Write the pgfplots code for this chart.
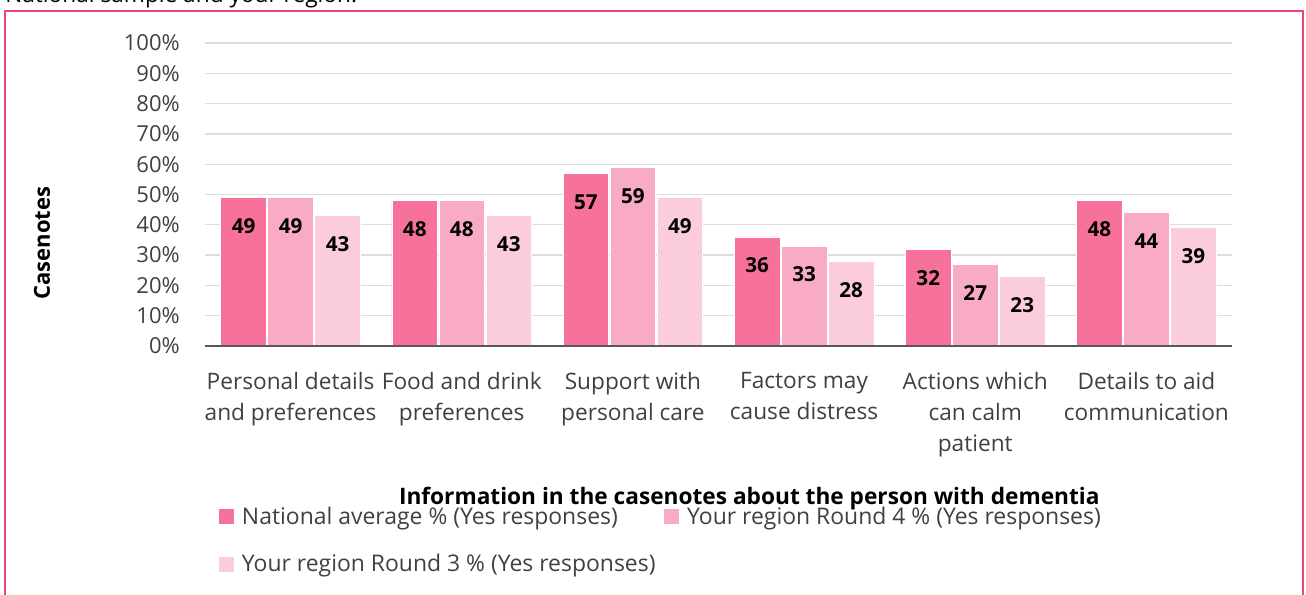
\documentclass[border=0pt]{standalone}
\usepackage{pgfplots}
\pgfplotsset{compat=1.18}
\usepackage{fontspec}
\setmainfont{Open Sans}
\definecolor{natc}{HTML}{F7729A}
\definecolor{r4c}{HTML}{F9ABC5}
\definecolor{r3c}{HTML}{FBCDDC}
\definecolor{framec}{HTML}{F0457A}
\definecolor{gridc}{HTML}{DDDDDD}
\definecolor{axc}{HTML}{595959}
\definecolor{txtc}{HTML}{404040}
\begin{document}
\begin{tikzpicture}
\path[use as bounding box] (0,0) rectangle (979.5pt,-446.25pt);
\clip (0,0) rectangle (979.5pt,-446.25pt);
\node[anchor=base west, inner sep=0pt, font=\fontsize{17}{20}\selectfont, text=black] at (3.75pt,-2pt) {National sample and your region.};
\draw[framec, line width=1.5pt] (3.75pt,-460pt) -- (3.75pt,-8pt) -- (977.25pt,-8pt) -- (977.25pt,-460pt);
\begin{axis}[
  at={(153.75pt,-259.5pt)}, anchor=south west,
  scale only axis, width=770.25pt, height=227.25pt,
  xmin=-0.5, xmax=5.5, ymin=0, ymax=100,
  ybar=1.1pt, bar width=0.266,
  axis line style={draw=none},
  major tick length=0pt,
  xtick={0,...,5},
  xticklabels={{Personal details\\and preferences},{Food and drink\\preferences},{Support with\\personal care},{Factors may\\cause distress},{Actions which\\can calm\\patient},{Details to aid\\communication}},
  xticklabel style={align=center, font=\fontsize{17}{23.25}\selectfont, text=txtc, inner sep=0pt, yshift=-19.5pt},
  ytick={0,10,...,100},
  yticklabel={\pgfmathprintnumber{\tick}\%},
  /pgf/number format/assume math mode=true,
  yticklabel style={font=\fontsize{16.5}{20}\selectfont, text=txtc, inner sep=0pt, xshift=-18.75pt},
  ymajorgrids, grid style={gridc, line width=1pt},
  ylabel={\bfseries Casenotes},
  ylabel style={at={(axis description cs:-0.1587,0.34)}, anchor=center, font=\fontsize{16.5}{18}\selectfont, text=black},
  xlabel={\bfseries Information in the casenotes about the person with dementia},
  xlabel style={at={(axis description cs:0.53,-0.502)}, anchor=center, font=\fontsize{17}{18}\selectfont, text=black},
  nodes near coords,
  nodes near coords style={font=\fontsize{15.5}{18}\selectfont\bfseries, text=black, anchor=north, inner sep=0pt, yshift=-15.5pt},
  legend columns=2,
  legend cell align=left,
  legend image code/.code={\path[#1, draw=none] (0pt,-5.6pt) rectangle (11.25pt,5.6pt); \path (14.6pt,0pt);},
  legend style={at={(axis description cs:0.0131,-0.525)}, anchor=north west, draw=none, fill=none, inner sep=0pt,
    font=\fontsize{17.2}{20}\selectfont, text=txtc, row sep=19.25pt,
    nodes={inner xsep=2.6pt, inner ysep=1pt},
    /tikz/every even column/.append style={column sep=32pt}},
]
\addplot[fill=natc, draw=white, line width=0.5pt] coordinates {(0,49) (1,48) (2,57) (3,36) (4,32) (5,48)};
\addplot[fill=r4c, draw=white, line width=0.5pt] coordinates {(0,49) (1,48) (2,59) (3,33) (4,27) (5,44)};
\addplot[fill=r3c, draw=white, line width=0.5pt] coordinates {(0,43) (1,43) (2,49) (3,28) (4,23) (5,39)};
\legend{National average \% (Yes responses), Your region Round 4 \% (Yes responses), \makebox[0pt][l]{Your region Round 3 \% (Yes responses)}}
\draw[axc, line width=2.25pt] (axis cs:-0.5,0) -- (axis cs:5.5,0);
\end{axis}
\end{tikzpicture}
\end{document}
